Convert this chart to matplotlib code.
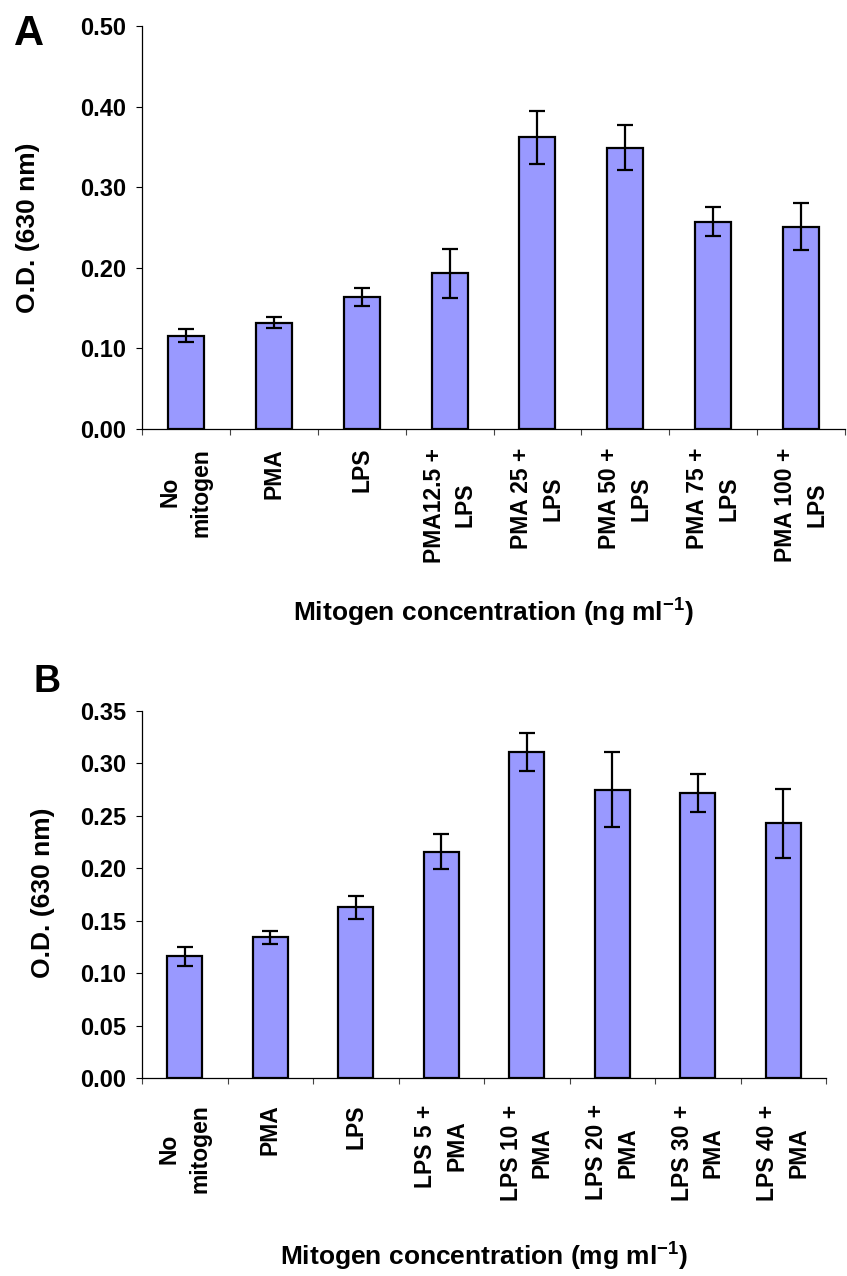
import numpy as np
import matplotlib
matplotlib.use('Agg')
import matplotlib.pyplot as plt

plt.rcParams['font.family'] = ['Liberation Sans', 'DejaVu Sans']
plt.rcParams['font.weight'] = 'bold'
plt.rcParams['mathtext.fontset'] = 'custom'
plt.rcParams['mathtext.rm'] = 'Liberation Sans:bold'
plt.rcParams['mathtext.it'] = 'Liberation Sans:bold'
plt.rcParams['mathtext.bf'] = 'Liberation Sans:bold'

# panel A
labels_a = ['No\nmitogen', 'PMA', 'LPS', 'PMA12.5 +\nLPS', 'PMA 25 +\nLPS',
            'PMA 50 +\nLPS', 'PMA 75 +\nLPS', 'PMA 100 +\nLPS']
vals_a = [0.116, 0.132, 0.164, 0.193, 0.362, 0.349, 0.257, 0.251]
err_a = [0.008, 0.007, 0.011, 0.030, 0.033, 0.028, 0.018, 0.029]
yticks_a = [0.0, 0.1, 0.2, 0.3, 0.4, 0.5]

# panel B
labels_b = ['No\nmitogen', 'PMA', 'LPS', 'LPS 5 +\nPMA', 'LPS 10 +\nPMA',
            'LPS 20 +\nPMA', 'LPS 30 +\nPMA', 'LPS 40 +\nPMA']
vals_b = [0.116, 0.134, 0.163, 0.216, 0.311, 0.275, 0.272, 0.243]
err_b = [0.009, 0.006, 0.011, 0.017, 0.018, 0.036, 0.018, 0.033]
yticks_b = [0.0, 0.05, 0.10, 0.15, 0.20, 0.25, 0.30, 0.35]

W, H = 847, 1276
fig = plt.figure(figsize=(W / 100.0, H / 100.0), dpi=100)


def panel(rect, labels, vals, errs, yticks, pad):
    ax = fig.add_axes(rect)
    x = np.arange(len(vals)) + 0.5
    ax.bar(x, vals, width=0.41, color='#9999FF', edgecolor='black', linewidth=1.6,
           yerr=errs, capsize=6,
           error_kw=dict(ecolor='black', elinewidth=1.6, capthick=1.6))
    ax.set_xlim(0, len(vals))
    ax.set_ylim(yticks[0], yticks[-1])
    ax.set_yticks(yticks)
    ax.set_yticklabels(['%.2f' % v for v in yticks], fontsize=17, fontweight='bold')
    ax.set_xticks(np.arange(len(vals) + 1))
    ax.set_xticklabels([])
    ax.set_xticks(x, minor=True)
    ax.set_xticklabels(labels, minor=True, rotation=90, fontsize=16.5,
                       fontweight='bold', linespacing=1.45, va='top', ha='center')
    ax.tick_params(axis='x', which='major', direction='out', length=4.5, width=0.8, color='#444444')
    ax.tick_params(axis='x', which='minor', length=0, pad=pad)
    ax.tick_params(axis='y', direction='out', length=4.5, width=0.8, pad=7)
    for s in ['top', 'right']:
        ax.spines[s].set_visible(False)
    ax.spines['left'].set_linewidth(0.9)
    ax.spines['bottom'].set_linewidth(0.9)
    return ax


ax_a = panel([142 / W, 1 - 429 / H, 703 / W, 403 / H], labels_a, vals_a, err_a, yticks_a, 13.5)
ax_b = panel([142 / W, 1 - 1078 / H, 684 / W, 367 / H], labels_b, vals_b, err_b, yticks_b, 19)

fig.text(28 / W, 1 - 228 / H, 'O.D. (630 nm)', rotation=90, ha='center', va='center',
         fontsize=19, fontweight='bold')
fig.text(43 / W, 1 - 893 / H, 'O.D. (630 nm)', rotation=90, ha='center', va='center',
         fontsize=19, fontweight='bold')
fig.text(493 / W, 1 - 622 / H, 'Mitogen concentration (ng ml$^{-1}$)', ha='center',
         va='baseline', fontsize=19, fontweight='bold')
fig.text(484 / W, 1 - 1266 / H, 'Mitogen concentration (mg ml$^{-1}$)', ha='center',
         va='baseline', fontsize=19, fontweight='bold')
fig.text(14 / W, 1 - 45 / H, 'A', ha='left', va='baseline', fontsize=30, fontweight='bold')
fig.text(33 / W, 1 - 692 / H, 'B', ha='left', va='baseline', fontsize=27, fontweight='bold')

fig.savefig('out.png', dpi=100)
